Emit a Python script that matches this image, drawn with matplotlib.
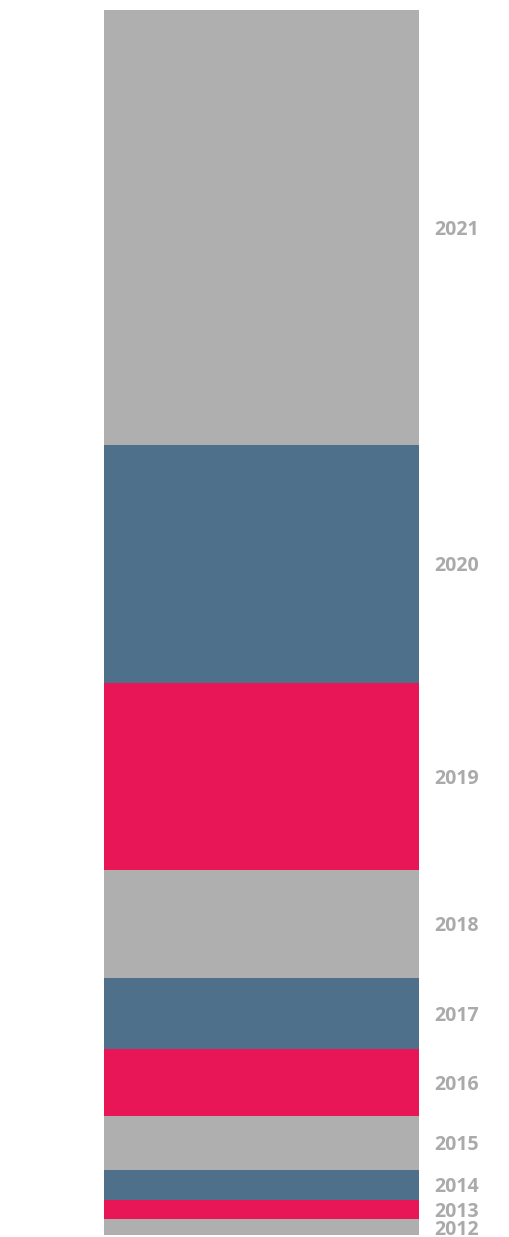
import matplotlib
matplotlib.use("Agg")
import matplotlib.pyplot as plt

years = ["2012", "2013", "2014", "2015", "2016", "2017", "2018", "2019", "2020", "2021"]
values = [15.5, 19.5, 30, 54, 67, 71, 108, 187, 237, 435]
colors = ["#AFAFB0", "#E91657", "#4F708A", "#AFAFB0", "#E91657", "#4F708A",
          "#AFAFB0", "#E91657", "#4F708A", "#AFAFB0"]

fig = plt.figure(figsize=(5.10, 12.37), dpi=100)
ax = fig.add_axes([104/510, 2/1237, 315/510, 1225/1237])

bottom = 0
total = sum(values)
for y, v, c in zip(years, values, colors):
    ax.bar(0, v, bottom=bottom, width=1.0, color=c, linewidth=0)
    ax.text(1.047, bottom + v / 2, y, transform=ax.get_yaxis_transform(),
            ha="left", va="center_baseline", fontsize=14, fontweight="bold",
            color="#AAAAAA", family=["Open Sans", "DejaVu Sans"])
    bottom += v

ax.set_xlim(-0.5, 0.5)
ax.set_ylim(0, total)
ax.axis("off")

fig.savefig("out.png", dpi=100)
